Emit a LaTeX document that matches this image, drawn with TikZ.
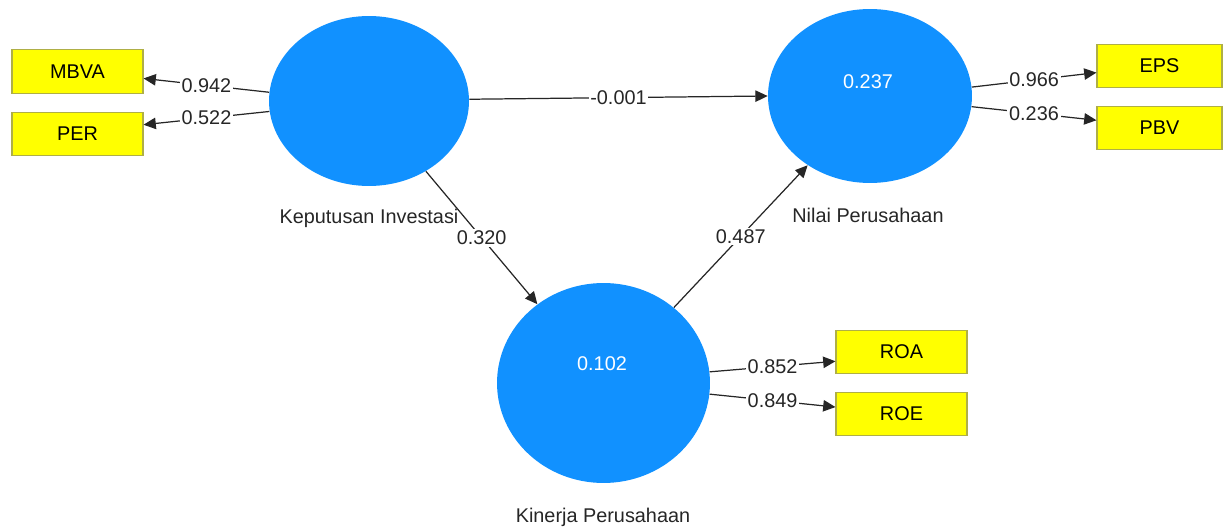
\documentclass[tikz,border=0pt]{standalone}
\usepackage{fontspec}
\setmainfont{Liberation Sans}
\usepackage{xcolor}
\usepackage{tikz}
\usetikzlibrary{arrows.meta, positioning, shapes.geometric}
\definecolor{pls_blue}{RGB}{17, 145, 255}
\definecolor{pls_yellow}{RGB}{255, 255, 0}
\definecolor{pls_edge}{RGB}{175, 175, 70}

\begin{document}
\begin{tikzpicture}[x=0.02cm, y=-0.02cm,
        lat/.style={ellipse, fill=pls_blue, draw=none, inner sep=0pt,
                    text=white, font=\fontsize{11.3}{13.5}\selectfont},
        ind/.style={rectangle, fill=pls_yellow, draw=pls_edge, line width=0.6pt,
                    minimum width=2.62cm, minimum height=0.87cm, inner sep=0pt,
                    font=\fontsize{11.3}{13.5}\selectfont},
        lbl/.style={font=\fontsize{11.3}{13.5}\selectfont, text=black!85},
        wt/.style={midway, fill=white, inner sep=1pt,
                   font=\fontsize{11.3}{13.5}\selectfont, text=black!85},
        arr/.style={-{Triangle[length=7pt, width=6.5pt]}, black!85, line width=0.7pt},
      ]
        \useasboundingbox (0, 0) rectangle (1225, 527);

        \node[lat, minimum width=4cm, minimum height=3.4cm] (ki) at (369, 101) {};
        \node[lat, minimum width=4.08cm, minimum height=3.48cm] (np) at (870, 96) {};
        \node[lat, minimum width=4.26cm, minimum height=4cm] (kp) at (603.5, 383) {};

        \node[font=\fontsize{11.3}{13.5}\selectfont, text=white] (npv) at (868, 82) {0.237};
        \node[font=\fontsize{11.3}{13.5}\selectfont, text=white] (kpv) at (602, 364) {0.102};

        \node[lbl] (kit) at (369, 218) {Keputusan Investasi};
        \node[lbl] (npt) at (868, 215) {Nilai Perusahaan};
        \node[lbl] (kpt) at (603, 517) {Kinerja Perusahaan};

        \node[ind] (mbva) at (77.5, 71.5) {MBVA};
        \node[ind] (per)  at (77.5, 134) {PER};
        \node[ind, minimum width=2.5cm] (eps) at (1159.5, 66) {EPS};
        \node[ind, minimum width=2.5cm] (pbv) at (1159.5, 128) {PBV};
        \node[ind] (roa) at (901.5, 352) {ROA};
        \node[ind] (roe) at (901.5, 414) {ROE};

        \draw[arr] (ki.175) -- node[wt] {0.942} (mbva.-6.5);
        \draw[arr] (ki.186) -- node[wt] {0.522} (per.8);

        \draw[arr] (np.5)  -- node[wt] {0.966} (eps.186);
        \draw[arr] (np.-6) -- node[wt] {0.236} (pbv.173);

        \draw[arr] (kp.6)  -- node[wt] {0.852} (roa.188.6);
        \draw[arr] (kp.-6) -- node[wt] {0.849} (roe.174.8);

        \draw[arr] (ki.1)   -- node[wt] {-0.001} (np.180);
        \draw[arr] (ki.-51) -- node[wt] {0.320} (kp.130);
        \draw[arr] (kp.47)  -- node[wt] {0.487} (np.228);
      \end{tikzpicture}
\end{document}
